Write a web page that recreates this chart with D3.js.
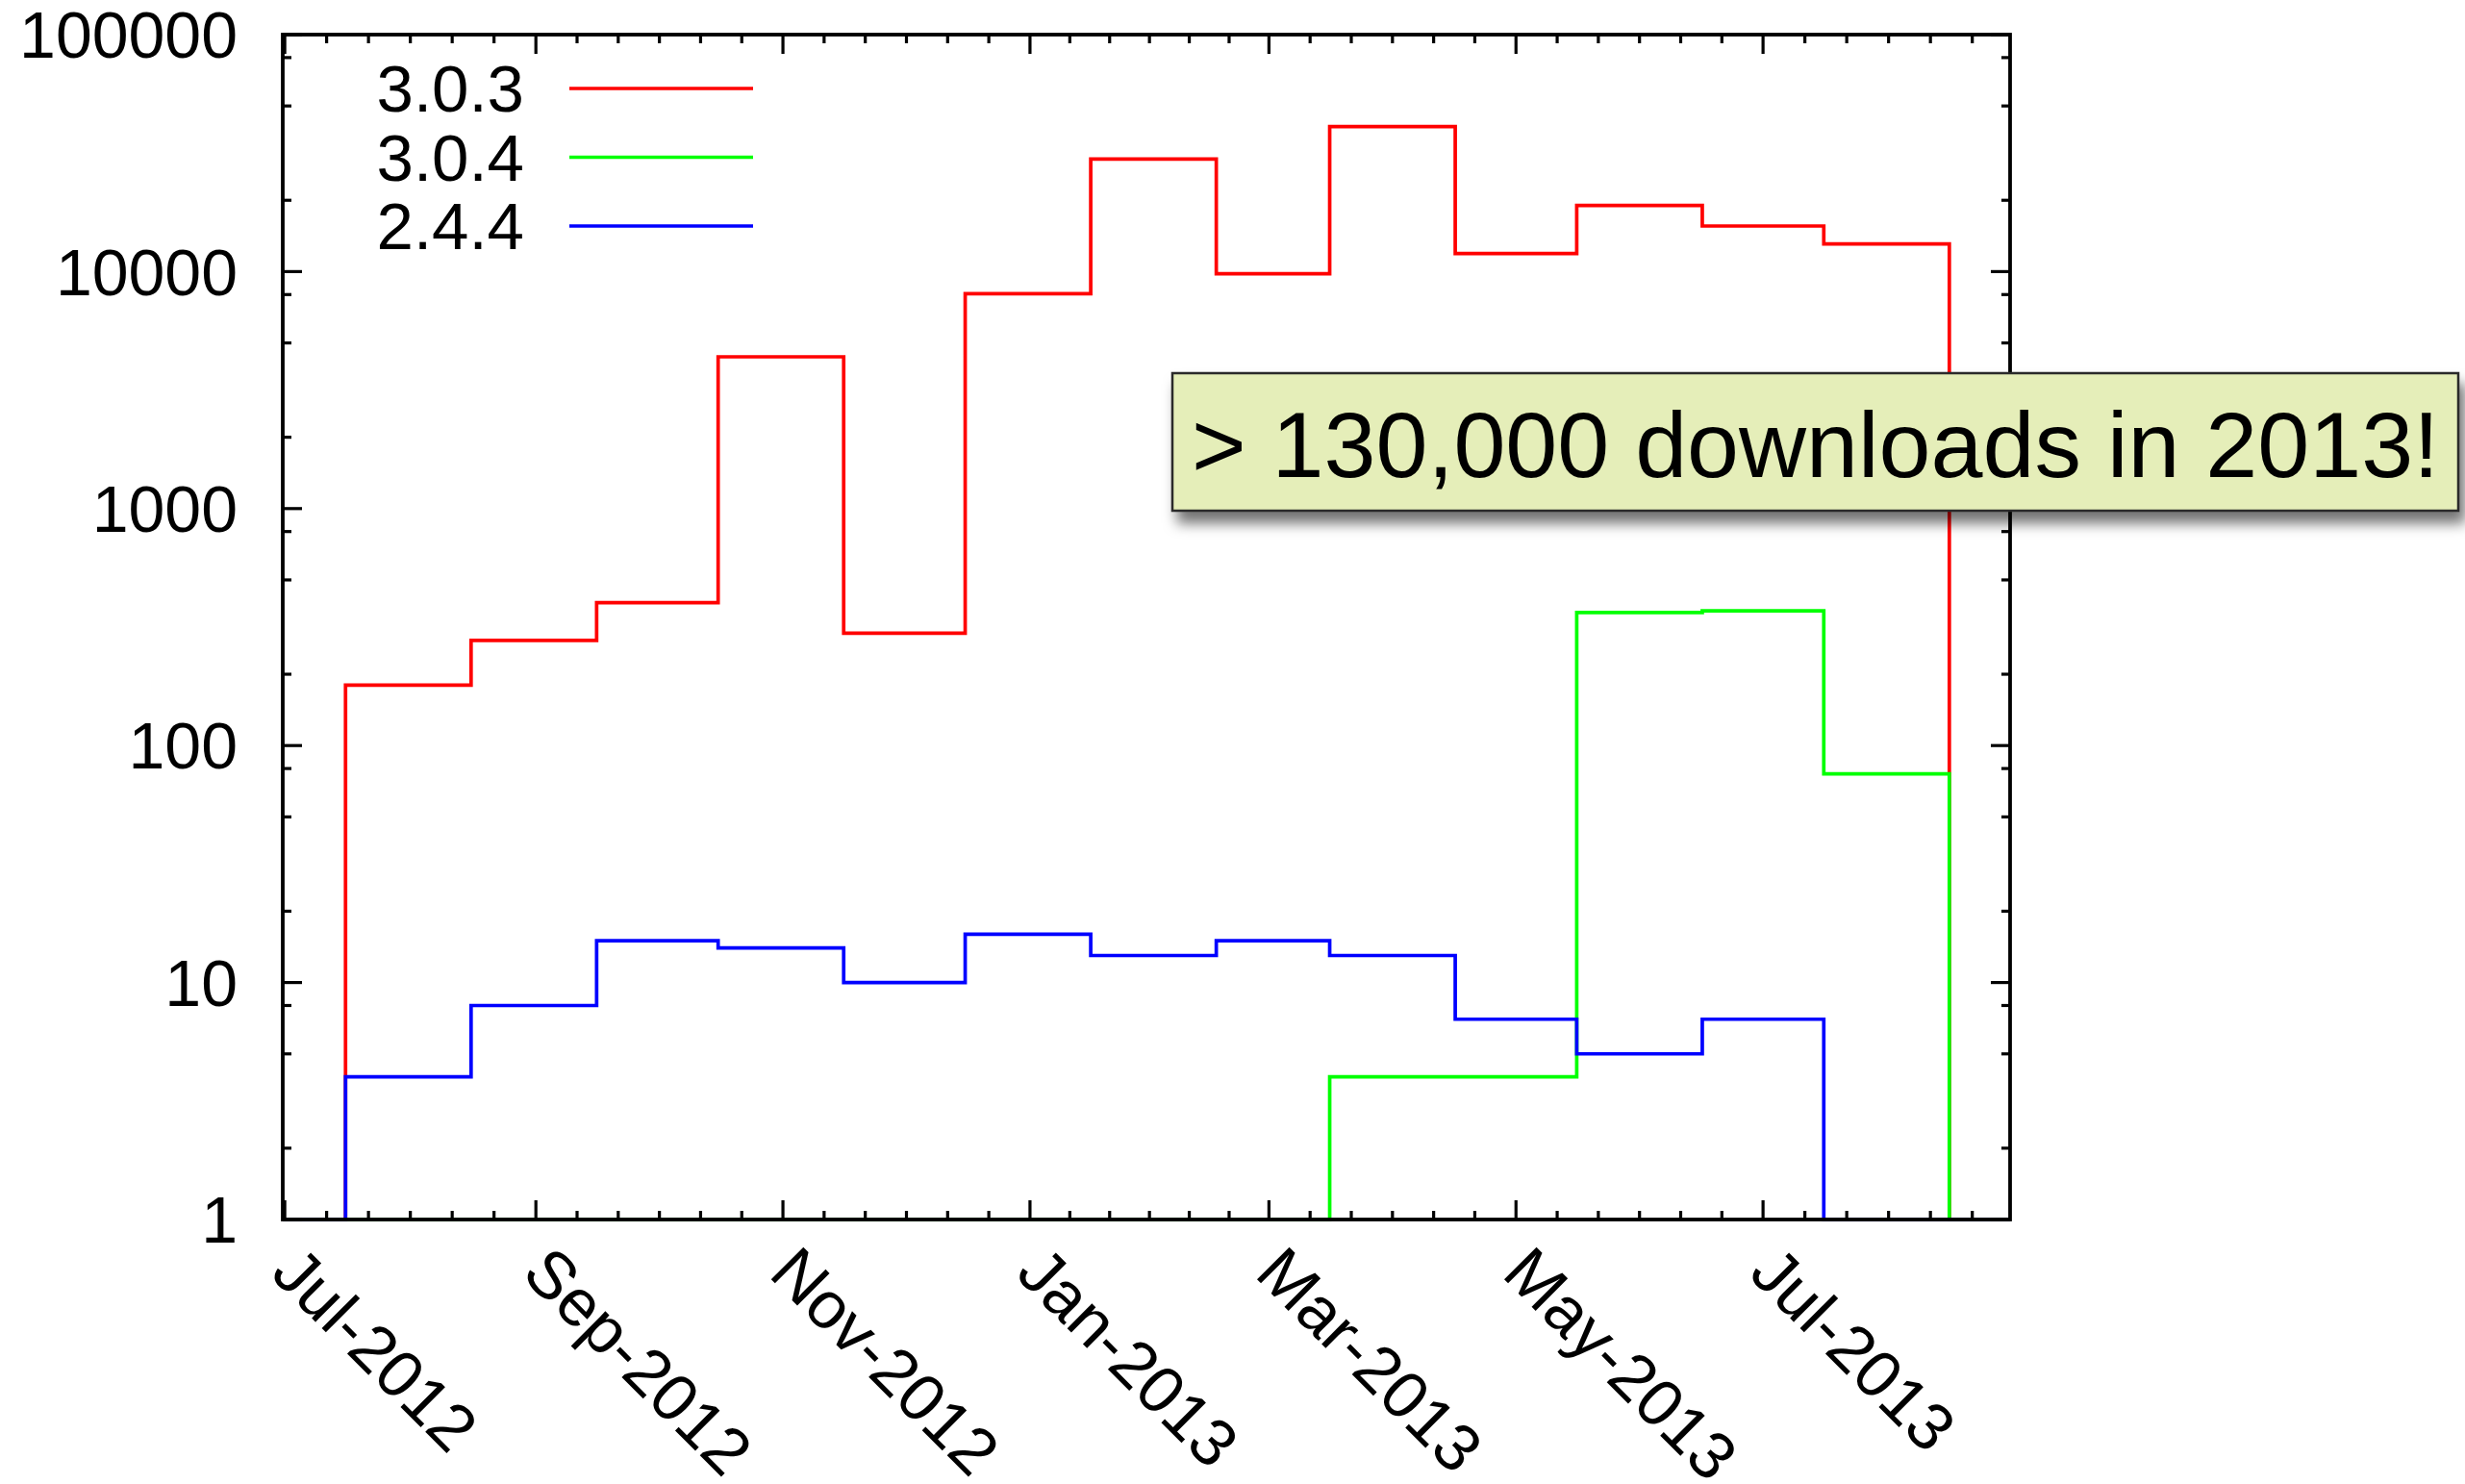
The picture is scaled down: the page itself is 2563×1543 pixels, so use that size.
<!DOCTYPE html>
<html><head><meta charset="utf-8">
<script src="https://cdn.jsdelivr.net/npm/d3@7"></script>
<style>html,body{margin:0;padding:0;background:#fff;overflow:hidden;} svg{display:block;}</style>
</head><body>
<svg id="chart" width="2563" height="1543"></svg>
<script>
// ---- data ----
// each bin spans from the 16th of its month to the 16th of the next month
const binMonths = ["2012-07","2012-08","2012-09","2012-10","2012-11","2012-12",
                   "2013-01","2013-02","2013-03","2013-04","2013-05","2013-06","2013-07"];
const values303 = [180, 278, 401, 4370, 298, 8070, 29870, 9790, 40900, 11910, 19000, 15570, 13080];
const values304 = [1, 1, 1, 1, 1, 1, 1, 1, 4, 4, 364, 370, 76];
const values244 = [4, 8, 15, 14, 10, 16, 13, 15, 13, 7, 5, 7, 1];
const seriesNames = ["3.0.3", "3.0.4", "2.4.4"];
const seriesColors = ["#ff0000", "#00ff00", "#0000ff"];
const yTickValues = [1, 10, 100, 1000, 10000, 100000];
const yMinorMultipliers = [2, 5, 8];
const xTickDates = ["2012-07-01","2012-09-01","2012-11-01","2013-01-01","2013-03-01","2013-05-01","2013-07-01","2013-09-01"];
const xTickLabels = ["Jul-2012","Sep-2012","Nov-2012","Jan-2013","Mar-2013","May-2013","Jul-2013"];
const annotationText = "> 130,000 downloads in 2013!";

// ---- layout ----
const FONT = "'Liberation Sans', Arial, Helvetica, sans-serif";
const pL = 294, pR = 2090, pT = 36, pB = 1268;
const LW = 3.7;
const svg = d3.select("#chart");

const parseDay = d3.utcParse("%Y-%m-%d");
const parseMonth = d3.utcParse("%Y-%m");
const x = d3.scaleUtc()
  .domain([new Date(Date.UTC(2012, 5, 30, 12)), new Date(Date.UTC(2013, 7, 31, 0))])
  .range([pL, pR]);
const y = d3.scaleLog().domain([1, 100000]).range([pB, pT]);

const binStart = m => { const d = parseMonth(m); return new Date(Date.UTC(d.getUTCFullYear(), d.getUTCMonth(), 16)); };
const binEnd = m => { const d = parseMonth(m); return new Date(Date.UTC(d.getUTCFullYear(), d.getUTCMonth() + 1, 16)); };

const defs = svg.append("defs");
const flt = defs.append("filter").attr("id", "shadow").attr("x", "-5%").attr("y", "-20%").attr("width", "115%").attr("height", "160%");
flt.append("feDropShadow").attr("dx", 6).attr("dy", 12).attr("stdDeviation", 7)
  .attr("flood-color", "#000").attr("flood-opacity", 0.55);

// ---- series (steps) ----
const allSeries = [values303, values304, values244];
const stepLine = d3.line().x(d => x(d[0])).y(d => y(d[1])).curve(d3.curveStepAfter);
allSeries.forEach((vals, si) => {
  const pts = [[x.domain()[0], 1]];
  binMonths.forEach((m, i) => pts.push([binStart(m), vals[i]]));
  pts.push([binEnd(binMonths[binMonths.length - 1]), 1]);
  pts.push([x.domain()[1], 1]);
  svg.append("path").attr("d", stepLine(pts)).attr("fill", "none")
    .attr("stroke", seriesColors[si]).attr("stroke-width", LW)
    .attr("stroke-linejoin", "miter").attr("stroke-linecap", "butt");
});

// ---- ticks ----
const tickG = svg.append("g").attr("stroke", "#000").attr("stroke-width", 3.2);
const majorLen = 20, minorLen = 9;
yTickValues.forEach(v => {
  const yy = y(v);
  tickG.append("line").attr("x1", pL).attr("x2", pL + majorLen).attr("y1", yy).attr("y2", yy);
  tickG.append("line").attr("x1", pR).attr("x2", pR - majorLen).attr("y1", yy).attr("y2", yy);
  if (v < 100000) yMinorMultipliers.forEach(mu => {
    const ym = y(v * mu);
    tickG.append("line").attr("x1", pL).attr("x2", pL + minorLen).attr("y1", ym).attr("y2", ym);
    tickG.append("line").attr("x1", pR).attr("x2", pR - minorLen).attr("y1", ym).attr("y2", ym);
  });
});
const xMajors = xTickDates.map(parseDay);
xMajors.forEach((d, i) => {
  const xx = x(d);
  if (xx <= pR + 1) {
    tickG.append("line").attr("x1", xx).attr("x2", xx).attr("y1", pB).attr("y2", pB - majorLen);
    tickG.append("line").attr("x1", xx).attr("x2", xx).attr("y1", pT).attr("y2", pT + majorLen);
  }
  if (i < xMajors.length - 1) {
    const x0 = x(d), x1 = x(xMajors[i + 1]);
    for (let k = 1; k < 6; k++) {
      const xm = x0 + (x1 - x0) * k / 6;
      if (xm >= pR - 2) continue;
      tickG.append("line").attr("x1", xm).attr("x2", xm).attr("y1", pB).attr("y2", pB - minorLen);
      tickG.append("line").attr("x1", xm).attr("x2", xm).attr("y1", pT).attr("y2", pT + minorLen);
    }
  }
});

// ---- border ----
svg.append("rect").attr("x", pL).attr("y", pT).attr("width", pR - pL).attr("height", pB - pT)
  .attr("fill", "none").attr("stroke", "#000").attr("stroke-width", 3.8);

// ---- tick labels ----
svg.append("g").selectAll("text").data(yTickValues).join("text")
  .attr("x", 247).attr("y", d => y(d)).attr("dy", "0.355em")
  .attr("text-anchor", "end").attr("font-family", FONT).attr("font-size", 68)
  .text(d => d3.format("d")(d));

svg.append("g").selectAll("text").data(xTickLabels).join("text")
  .attr("transform", (d, i) => `translate(${x(xMajors[i]) + 1},${pB + 41}) rotate(45)`)
  .attr("dy", "0.355em").attr("text-anchor", "start")
  .attr("font-family", FONT).attr("font-size", 69)
  .text(d => d);

// ---- legend ----
const legend = svg.append("g");
seriesNames.forEach((n, i) => {
  const ly = 92 + i * 71.5;
  legend.append("text").attr("x", 545).attr("y", ly).attr("dy", "0.355em")
    .attr("text-anchor", "end").attr("font-family", FONT).attr("font-size", 69).text(n);
  legend.append("line").attr("x1", 592).attr("x2", 783).attr("y1", ly).attr("y2", ly)
    .attr("stroke", seriesColors[i]).attr("stroke-width", LW);
});

// ---- annotation ----
const ann = svg.append("g");
ann.append("rect").attr("x", 1219).attr("y", 388).attr("width", 1337).attr("height", 143)
  .attr("fill", "#e5eeb9").attr("stroke", "#2a2a2a").attr("stroke-width", 2.5)
  .attr("filter", "url(#shadow)");
ann.append("text").attr("x", 1239).attr("y", 496)
  .attr("font-family", FONT).attr("font-size", 97).attr("fill", "#000")
  .text(annotationText);
</script>
</body></html>
